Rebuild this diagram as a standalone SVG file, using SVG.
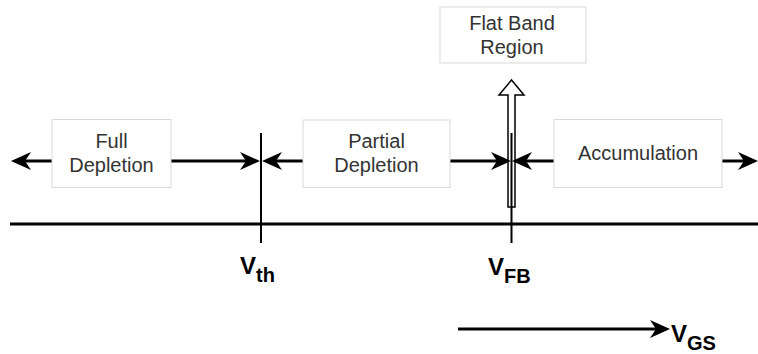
<svg xmlns="http://www.w3.org/2000/svg" width="758" height="354" viewBox="0 0 758 354">
  <style>
    .box { fill: #ffffff; stroke: #d9d9d9; stroke-width: 1; }
    .lbl { font-family: "Liberation Sans", Arial, sans-serif; font-size: 20px; fill: #333333; text-anchor: middle; }
    .vlab { font-family: "Liberation Sans", Arial, sans-serif; font-size: 24px; font-weight: bold; fill: #000000; }
    .conn { stroke: #000000; stroke-width: 3; fill: none; marker-end: url(#arr); }
    .axis { stroke: #000000; stroke-width: 3; fill: none; }
    .tick { stroke: #000000; stroke-width: 2; fill: none; }
  </style>
  <defs>
    <marker id="arr" markerUnits="userSpaceOnUse" markerWidth="20" markerHeight="18" refX="12" refY="9" orient="auto" overflow="visible">
      <path d="M0,0 L20,9 L0,18 L6,9 Z" fill="#000000"/>
    </marker>
  </defs>
  <rect width="758" height="354" fill="#ffffff"/>

  <g id="axis-lines">
    <line class="axis" x1="10" y1="224" x2="758" y2="224"/>
    <line class="tick" x1="261" y1="133" x2="261" y2="243"/>
  </g>

  <g id="flat-band-arrow">
    <path d="M508,207 L508,95 L499,95 L511.5,80 L524,95 L515,95 L515,207 Z" fill="#ffffff" stroke="#000000" stroke-width="1.5"/>
    <line class="tick" x1="511.5" y1="133" x2="511.5" y2="243"/>
  </g>

  <g id="connectors">
    <line class="conn" x1="52" y1="161" x2="19" y2="161"/>
    <line class="conn" x1="171" y1="161" x2="252" y2="161"/>
    <line class="conn" x1="303" y1="161" x2="270" y2="161"/>
    <line class="conn" x1="450" y1="161" x2="503" y2="161"/>
    <line class="conn" x1="554" y1="161" x2="520" y2="161"/>
    <line class="conn" x1="722" y1="161" x2="750" y2="161"/>
    <line class="conn" x1="458" y1="329" x2="662" y2="329"/>
  </g>

  <g id="full-depletion">
    <rect class="box" x="52" y="119.5" width="119" height="68"/>
    <text class="lbl" x="111.5" y="148">Full</text>
    <text class="lbl" x="111.5" y="172">Depletion</text>
  </g>

  <g id="partial-depletion">
    <rect class="box" x="303" y="120" width="147" height="67.5"/>
    <text class="lbl" x="376.5" y="148">Partial</text>
    <text class="lbl" x="376.5" y="172">Depletion</text>
  </g>

  <g id="accumulation">
    <rect class="box" x="554" y="119.5" width="168" height="68"/>
    <text class="lbl" x="638" y="160">Accumulation</text>
  </g>

  <g id="flat-band-region">
    <rect class="box" x="440" y="7" width="146" height="56"/>
    <text class="lbl" x="512" y="29.5">Flat Band</text>
    <text class="lbl" x="512" y="54">Region</text>
  </g>

  <g id="label-vth">
    <text class="vlab" x="240" y="274">V<tspan font-size="20" dy="8">th</tspan></text>
  </g>
  <g id="label-vfb">
    <text class="vlab" x="488" y="275">V<tspan font-size="20" dy="8">FB</tspan></text>
  </g>
  <g id="label-vgs">
    <text class="vlab" x="671" y="342">V<tspan font-size="20" dy="8">GS</tspan></text>
  </g>
</svg>
